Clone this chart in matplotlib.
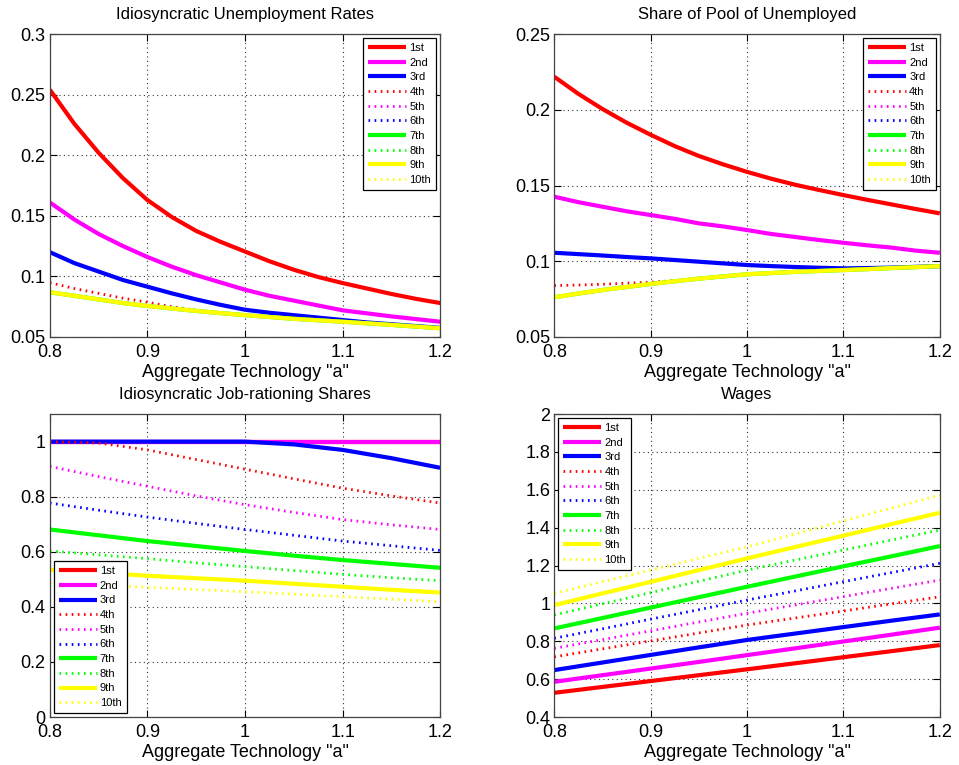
import matplotlib
matplotlib.use("Agg")
import matplotlib.pyplot as plt

plt.rcParams['font.family'] = ['Liberation Sans', 'DejaVu Sans']

a_fine = [0.800, 0.825, 0.850, 0.875, 0.900, 0.925, 0.950, 0.975, 1.000,
          1.025, 1.050, 1.075, 1.100, 1.125, 1.150, 1.175, 1.200]
a = [0.80, 0.85, 0.90, 0.95, 1.00, 1.05, 1.10, 1.15, 1.20]
labels = ['1st', '2nd', '3rd', '4th', '5th', '6th', '7th', '8th', '9th', '10th']
xticks = [0.8, 0.9, 1.0, 1.1, 1.2]
xticklabels = ['0.8', '0.9', '1', '1.1', '1.2']

# Idiosyncratic Unemployment Rates (on a_fine)
ur_low = [0.0869, 0.084, 0.081, 0.078, 0.0756, 0.0735, 0.0715, 0.0697, 0.068,
          0.0665, 0.065, 0.0638, 0.0626, 0.0613, 0.060, 0.0586, 0.0572]
unemp = [
    [0.254, 0.226, 0.202, 0.181, 0.163, 0.149, 0.1375, 0.1285, 0.1205,
     0.1125, 0.1055, 0.0995, 0.0945, 0.090, 0.0855, 0.0815, 0.078],
    [0.161, 0.147, 0.135, 0.125, 0.116, 0.108, 0.101, 0.095, 0.089,
     0.084, 0.080, 0.076, 0.072, 0.0695, 0.067, 0.0648, 0.0626],
    [0.120, 0.111, 0.104, 0.097, 0.0915, 0.086, 0.081, 0.0765, 0.0725,
     0.070, 0.068, 0.066, 0.064, 0.062, 0.0605, 0.059, 0.0575],
    [0.0948, 0.090, 0.086, 0.082, 0.0787, 0.075, 0.072, 0.0697, 0.068,
     0.0665, 0.065, 0.0638, 0.0626, 0.0613, 0.060, 0.0586, 0.0572],
    ur_low, ur_low, ur_low, ur_low, ur_low, ur_low,
]

# Share of Pool of Unemployed (on a_fine)
sh_low = [0.0762, 0.0787, 0.081, 0.083, 0.085, 0.0868, 0.0885, 0.090, 0.0914,
          0.0922, 0.093, 0.0936, 0.0942, 0.0948, 0.0955, 0.0961, 0.0968]
share = [
    [0.2218, 0.2105, 0.2005, 0.1915, 0.1835, 0.176, 0.1695, 0.164, 0.159,
     0.1545, 0.1505, 0.147, 0.1437, 0.1405, 0.1375, 0.1345, 0.1316],
    [0.1426, 0.139, 0.136, 0.133, 0.1305, 0.128, 0.125, 0.123, 0.1206,
     0.118, 0.116, 0.114, 0.1122, 0.1105, 0.109, 0.107, 0.1056],
    [0.1056, 0.1047, 0.1038, 0.1028, 0.1019, 0.1008, 0.0997, 0.0986, 0.0975,
     0.0968, 0.0962, 0.0957, 0.0953, 0.0955, 0.0958, 0.0963, 0.0968],
    [0.0839, 0.0843, 0.0848, 0.0855, 0.0862, 0.0872, 0.0885, 0.090, 0.0914,
     0.0922, 0.093, 0.0936, 0.0942, 0.0948, 0.0955, 0.0961, 0.0968],
    sh_low, sh_low, sh_low, sh_low, sh_low, sh_low,
]

# Idiosyncratic Job-rationing Shares (on a)
jobrat = [
    [1.0, 1.0, 1.0, 1.0, 1.0, 1.0, 1.0, 1.0, 1.0],
    [1.0, 1.0, 1.0, 1.0, 1.0, 1.0, 1.0, 1.0, 1.0],
    [1.0, 1.0, 1.0, 1.0, 1.0, 0.99, 0.97, 0.94, 0.905],
    [1.0, 0.995, 0.97, 0.935, 0.90, 0.865, 0.831, 0.803, 0.777],
    [0.910, 0.873, 0.838, 0.803, 0.771, 0.743, 0.717, 0.698, 0.681],
    [0.777, 0.751, 0.726, 0.703, 0.681, 0.660, 0.639, 0.622, 0.605],
    [0.681, 0.660, 0.639, 0.621, 0.603, 0.586, 0.570, 0.556, 0.542],
    [0.603, 0.589, 0.575, 0.560, 0.546, 0.532, 0.518, 0.506, 0.495],
    [0.535, 0.524, 0.513, 0.504, 0.495, 0.484, 0.473, 0.462, 0.452],
    [0.488, 0.479, 0.471, 0.463, 0.455, 0.446, 0.437, 0.428, 0.418],
]

# Wages (on a)
wages = [
    [0.528, 0.559, 0.590, 0.621, 0.652, 0.684, 0.716, 0.748, 0.780],
    [0.586, 0.621, 0.656, 0.691, 0.727, 0.763, 0.799, 0.835, 0.872],
    [0.648, 0.688, 0.728, 0.768, 0.807, 0.841, 0.875, 0.909, 0.942],
    [0.718, 0.760, 0.802, 0.844, 0.886, 0.923, 0.960, 0.998, 1.035],
    [0.763, 0.809, 0.855, 0.902, 0.948, 0.992, 1.036, 1.080, 1.123],
    [0.816, 0.866, 0.917, 0.967, 1.018, 1.066, 1.115, 1.163, 1.212],
    [0.868, 0.923, 0.978, 1.033, 1.088, 1.142, 1.196, 1.249, 1.303],
    [0.939, 0.998, 1.057, 1.117, 1.176, 1.229, 1.282, 1.335, 1.388],
    [0.991, 1.053, 1.114, 1.176, 1.238, 1.298, 1.358, 1.419, 1.479],
    [1.053, 1.115, 1.176, 1.238, 1.299, 1.367, 1.436, 1.504, 1.572],
]

colors = ['#ff0000', '#ff00ff', '#0000ff'] * 2 + ['#00ff00', '#00ff00', '#ffff00', '#ffff00']
styles = ['-', '-', '-', ':', ':', ':', '-', ':', '-', ':']

panels = [
    dict(x=a_fine, data=unemp, title='Idiosyncratic Unemployment Rates', ylim=(0.05, 0.3),
         yticks=[0.05, 0.1, 0.15, 0.2, 0.25, 0.3],
         ylabels=['0.05', '0.1', '0.15', '0.2', '0.25', '0.3'],
         pos=[0.052, 0.5595, 0.407, 0.396], loc='upper right'),
    dict(x=a_fine, data=share, title='Share of Pool of Unemployed', ylim=(0.05, 0.25),
         yticks=[0.05, 0.1, 0.15, 0.2, 0.25],
         ylabels=['0.05', '0.1', '0.15', '0.2', '0.25'],
         pos=[0.578, 0.5595, 0.402, 0.396], loc='upper right'),
    dict(x=a, data=jobrat, title='Idiosyncratic Job-rationing Shares', ylim=(0, 1.1),
         yticks=[0, 0.2, 0.4, 0.6, 0.8, 1.0],
         ylabels=['0', '0.2', '0.4', '0.6', '0.8', '1'],
         pos=[0.052, 0.0627, 0.407, 0.396], loc='lower left'),
    dict(x=a, data=wages, title='Wages', ylim=(0.4, 2.0),
         yticks=[0.4, 0.6, 0.8, 1.0, 1.2, 1.4, 1.6, 1.8, 2.0],
         ylabels=['0.4', '0.6', '0.8', '1', '1.2', '1.4', '1.6', '1.8', '2'],
         pos=[0.578, 0.0627, 0.402, 0.396], loc='upper left'),
]

fig = plt.figure(figsize=(9.59, 7.65), dpi=100)
for p in panels:
    ax = fig.add_axes(p['pos'])
    for vals, c, ls, lab in zip(p['data'], colors, styles, labels):
        if ls == '-':
            ax.plot(p['x'], vals, color=c, lw=3.0, ls='-', label=lab,
                    solid_capstyle='butt', solid_joinstyle='round')
        else:
            ax.plot(p['x'], vals, color=c, lw=2.0, ls=(0, (0.6, 1.6)), label=lab)
    ax.set_xlim(0.8, 1.2)
    ax.set_ylim(*p['ylim'])
    ax.set_xticks(xticks)
    ax.set_xticklabels(xticklabels)
    ax.set_yticks(p['yticks'])
    ax.set_yticklabels(p['ylabels'])
    ax.tick_params(direction='in', top=True, right=True, labelsize=13, length=5,
                   width=0.8, pad=3)
    ax.tick_params(axis='x', pad=5)
    ax.grid(True, color='#333333', linestyle=(0, (1, 3)), linewidth=0.8)
    for s in ax.spines.values():
        s.set_color('#444444')
        s.set_linewidth(0.9)
    ax.set_title(p['title'], fontsize=12, pad=11)
    ax.set_xlabel('Aggregate Technology "a"', fontsize=13, labelpad=2)
    leg = ax.legend(loc=p['loc'], fontsize=8, handlelength=3.4, labelspacing=0.42,
                    handletextpad=0.3, borderpad=0.45, fancybox=False, framealpha=1,
                    edgecolor='black', borderaxespad=0.35)
    leg.get_frame().set_linewidth(0.9)

fig.savefig('out.png', dpi=100)
